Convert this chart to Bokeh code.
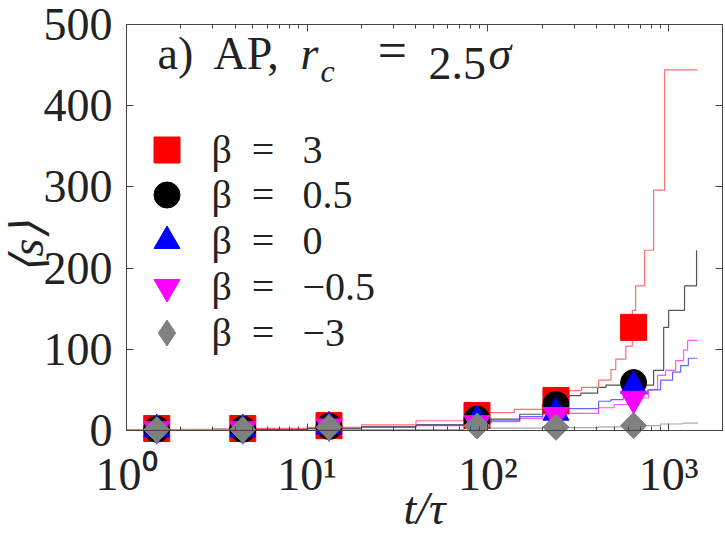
import math
from bokeh.plotting import figure
from bokeh.models import (Range1d, LinearAxis, FixedTicker, Label,
                          Legend, LegendItem, CustomJSTickFormatter)
from bokeh.embed import file_html
from bokeh.resources import INLINE

FONT = "Liberation Serif"

# ---------------- data ----------------
# sampled points (markers)
t_mk = [1.47, 4.4, 13.2, 87, 238, 640]
s_b3 = [2.5, 2.5, 6, 18.5, 37, 127]
s_b05 = [1.5, 1.5, 5, 14, 32, 59]
s_b0 = [1.5, 1.5, 5, 13, 22, 55]
s_bm05 = [1.5, 1.5, 5, 9, 19, 39]
s_bm3 = [1, 1, 4, 5.5, 4, 6]

# continuous (step) curves
t_red = [1, 2, 5, 10, 20, 40, 74, 100, 140, 200, 250, 280, 330, 410, 480, 510,
         580, 630, 657, 737, 826, 950, 1445]
s_red = [1, 1.5, 2.5, 4, 7, 12, 18, 22, 26, 32, 40, 49, 53, 62, 75, 88,
         104, 148, 178, 222, 296, 444, 444]

t_blk = [1, 3, 10, 20, 40, 74, 104, 150, 201, 250, 280, 327, 405, 450, 826,
         939, 1001, 1225, 1428]
s_blk = [1, 1.5, 3, 4.5, 7, 11, 14, 20, 26, 35, 43, 46, 53, 56, 74,
         127, 148, 178, 222]

t_blu = [1, 3, 10, 20, 40, 74, 104, 150, 201, 280, 410, 480, 560, 650, 766,
         903, 1052, 1166, 1286, 1445]
s_blu = [1, 1.5, 3, 4.5, 7, 10, 12, 17, 23, 27, 36, 38, 41, 45, 50,
         62, 72, 80, 89, 89]

t_mag = [1, 3, 10, 20, 40, 74, 104, 150, 201, 280, 410, 500, 640, 775, 869,
         962, 1094, 1210, 1274, 1445]
s_mag = [1, 1.5, 3, 4, 6, 9, 11, 15, 20, 21, 28, 32, 40, 50, 68,
         74, 86, 99, 111, 111]

t_gry = [1, 10, 74, 104, 201, 410, 640, 900, 1200, 1445]
s_gry = [0.5, 1, 2.5, 3, 3.5, 4.5, 6, 8, 9, 10]

legend_labels = ["β = 3", "β = 0.5", "β = 0", "β = −0.5", "β = −3"]

x_tick_values = [1, 10, 100, 1000]
x_tick_labels = ["10⁰", "10¹", "10²", "10³"]
y_tick_values = [0, 100, 200, 300, 400, 500]
X_MIN, X_MAX = 1, 1988
Y_MIN, Y_MAX = 0, 500

x_minor = [m * 10 ** k for k in range(0, 4) for m in range(2, 10)]

# ---------------- layout: the frame covers the whole canvas, axes are pinned ----
W, H = 725, 538
PX_LEFT, PX_DEC = 126, 180.7      # canvas x of t=1, px per decade
PX_Y0, K = 430, 0.812             # canvas y of <s>=0, px per unit

x_lo = 10 ** (-PX_LEFT / PX_DEC)
x_hi = 10 ** ((W - PX_LEFT) / PX_DEC)
y_lo = -(H - PX_Y0) / K
y_hi = PX_Y0 / K

p = figure(width=W, height=H, x_axis_type="log", x_axis_location=None,
           y_axis_location=None,
           x_range=Range1d(x_lo, x_hi), y_range=Range1d(y_lo, y_hi),
           output_backend="svg", toolbar_location=None,
           min_border_left=0, min_border_right=0,
           min_border_top=0, min_border_bottom=0)
p.grid.visible = False
p.outline_line_color = None
p.background_fill_color = "white"
p.border_fill_color = "white"

AX_COL = "#444444"

def style_axis(ax, show_labels):
    ax.axis_line_color = AX_COL
    ax.major_tick_line_color = AX_COL
    ax.minor_tick_line_color = AX_COL
    ax.major_tick_in = 7
    ax.major_tick_out = 0
    ax.minor_tick_in = 4
    ax.minor_tick_out = 0
    if show_labels:
        ax.major_label_text_font = FONT
        ax.major_label_text_font_size = "46px"
        ax.major_label_text_color = "#222222"
        ax.axis_label_text_font = FONT
        ax.axis_label_text_font_size = "46px"
        ax.axis_label_text_font_style = "italic"
        ax.axis_label_text_color = "#222222"
    else:
        ax.formatter = CustomJSTickFormatter(code="return ''")
        ax.major_label_text_font_size = "2px"
        ax.major_label_standoff = 0

sup_fmt = CustomJSTickFormatter(
    args=dict(vals=x_tick_values, labs=x_tick_labels),
    code="const i = vals.indexOf(Math.round(tick)); return i >= 0 ? labs[i] : '';")

xb = LinearAxis(ticker=FixedTicker(ticks=x_tick_values, minor_ticks=x_minor),
                formatter=sup_fmt, fixed_location=Y_MIN, bounds=(X_MIN, X_MAX),
                axis_label="t/τ")
style_axis(xb, True)
xb.major_label_standoff = 18
xb.axis_label_standoff = -20
p.add_layout(xb, "below")

xt = LinearAxis(ticker=FixedTicker(ticks=x_tick_values, minor_ticks=x_minor),
                fixed_location=Y_MAX, bounds=(X_MIN, X_MAX))
style_axis(xt, False)
p.add_layout(xt, "above")

yl = LinearAxis(ticker=FixedTicker(ticks=y_tick_values), fixed_location=X_MIN,
                bounds=(Y_MIN, Y_MAX))
style_axis(yl, True)
yl.major_label_standoff = 14
yl.minor_tick_in = 0
p.add_layout(yl, "left")

yr = LinearAxis(ticker=FixedTicker(ticks=y_tick_values), fixed_location=X_MAX,
                bounds=(Y_MIN, Y_MAX))
style_axis(yr, False)
yr.minor_tick_in = 0
p.add_layout(yr, "right")

# ---------------- curves ----------------
p.step(t_gry, s_gry, mode="after", line_color="#aaaaaa", line_width=1.2)
p.step(t_mag, s_mag, mode="after", line_color="#ff55ff", line_width=1.2)
p.step(t_blu, s_blu, mode="after", line_color="#6666ff", line_width=1.2)
p.step(t_blk, s_blk, mode="after", line_color="#555555", line_width=1.2)
p.step(t_red, s_red, mode="after", line_color="#ff7070", line_width=1.2)

r1 = p.scatter(t_mk, s_b3, marker="square", size=26, color="#ff0000")
r2 = p.scatter(t_mk, s_b05, marker="circle", size=26, color="#000000")
r3 = p.scatter(t_mk, s_b0, marker="triangle", size=26, color="#0000ff")
r4 = p.scatter(t_mk, s_bm05, marker="inverted_triangle", size=26, color="#ff00ff")
r5 = p.scatter(t_mk, s_bm3, marker="square", angle=math.pi / 4, size=18.4,
               color="#808080")
# legend-only stand-in for the rotated square (legends ignore marker angle)
r5_leg = p.scatter(t_mk, s_bm3, marker="diamond", size=28, color="#808080",
                   visible=False)

row_centers = [149, 194.75, 240.5, 286.25, 332]
GL = 65
for lbl, rend, yc in zip(legend_labels, [r1, r2, r3, r4, r5_leg], row_centers):
    shown = lbl.replace(" = ", "\u2002=\u2002\u2009")
    lg = Legend(items=[LegendItem(label=shown, renderers=[rend])],
                location=(166 - GL / 2, H - (yc + GL / 2)),
                glyph_width=GL, glyph_height=GL, padding=0, margin=0,
                border_line_color=None, background_fill_alpha=0,
                label_text_font=FONT, label_text_font_size="40px",
                label_text_color="#222222", label_standoff=13, label_height=20)
    p.add_layout(lg)

# ---------------- free texts (canvas px, frame == canvas) ----------------
def lab(text, sx, sy, size, style="normal", align="left", **kw):
    p.add_layout(Label(text=text, x=sx, y=H - sy, x_units="screen",
                       y_units="screen", text_font=FONT, text_font_size=size,
                       text_font_style=style, text_color="#222222",
                       text_align=align, **kw))

lab("a)", 157, 78, "46px")
lab("AP,", 213, 78, "46px")
lab("r", 300, 78, "46px", "italic")
lab("c", 320, 88, "32px", "italic")
lab("=", 392, 78, "52px", align="center")
lab("2.5", 428, 78, "46px")
lab("σ", 488, 78, "46px", "italic")

lab("⟨s⟩", 27, 247, "46px", "italic", align="center", angle=math.pi / 2,
    text_baseline="middle")

open("out.html", "w").write(file_html(p, INLINE))
